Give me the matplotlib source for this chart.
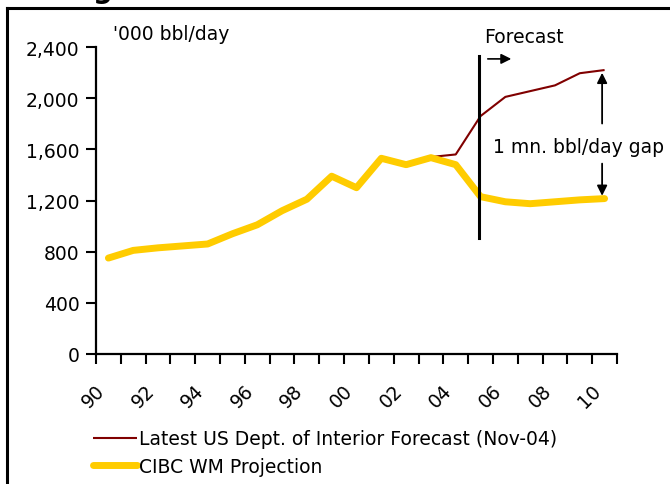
import numpy as np
import matplotlib
matplotlib.use("Agg")
import matplotlib.pyplot as plt
import matplotlib.transforms as mtransforms
from matplotlib.lines import Line2D

# annual output, '000 bbl/day
years = list(range(1990, 2011))
cibc = [750, 810, 830, 845, 860, 940, 1010, 1120, 1210, 1390, 1300, 1530, 1480, 1535, 1480,
        1230, 1190, 1175, 1190, 1205, 1215]
doi = [750, 810, 830, 845, 860, 940, 1010, 1120, 1210, 1390, 1300, 1530, 1480, 1540, 1560,
       1860, 2010, 2055, 2100, 2195, 2220]
tick_labels = ["90", "92", "94", "96", "98", "00", "02", "04", "06", "08", "10"]
label_years = years[::2]

RED = "#800000"
YELLOW = "#FFCC00"
FS = 13.5

plt.rcParams["font.family"] = ["DejaVu Sans"]
fig = plt.figure(figsize=(6.7, 4.85), dpi=100)
ax = fig.add_axes([96 / 670, 1 - 355 / 485, (617 - 96) / 670, (355 - 48) / 485])

ax.plot(years, doi, color=RED, lw=1.5, label="Latest US Dept. of Interior Forecast (Nov-04)",
        solid_capstyle="butt")
ax.plot(years, cibc, color=YELLOW, lw=5, label="CIBC WM Projection", solid_capstyle="round",
        solid_joinstyle="round")

ax.set_xlim(1989.5, 2010.5)
ax.set_ylim(0, 2400)
ax.set_yticks(np.arange(0, 2401, 400))
ax.set_yticklabels([f"{v:,}" for v in range(0, 2401, 400)], fontsize=FS)
ax.set_xticks(label_years)
ax.set_xticklabels(tick_labels, fontsize=FS, rotation=45, ha="right", va="top")
shift = mtransforms.ScaledTranslation(-4 / 100, 0, fig.dpi_scale_trans)
for lab in ax.get_xticklabels():
    lab.set_transform(lab.get_transform() + shift)
ax.set_xticks(np.arange(1989.5, 2011, 1), minor=True)
ax.tick_params(axis="x", which="major", length=0, pad=19)
ax.tick_params(axis="x", which="minor", length=7, width=1.5, direction="out")
ax.tick_params(axis="y", length=7, width=1.5, direction="out", pad=5)
for s in ("top", "right"):
    ax.spines[s].set_visible(False)
for s in ("left", "bottom"):
    ax.spines[s].set_linewidth(1.6)

# forecast divider and annotations
fx = 2004.92
ax.plot([fx, fx], [907, 2330], color="black", lw=2.2, clip_on=False)
ax.text(fx + 0.22, 2480, "Forecast", fontsize=FS, va="center", ha="left")
ax.annotate("", xy=(2006.35, 2307), xytext=(2005.18, 2307),
            arrowprops=dict(arrowstyle="-|>", color="black", lw=1.2, mutation_scale=15),
            annotation_clip=False)

gx = 2009.9
ax.annotate("", xy=(gx, doi[-1]), xytext=(gx, 1780),
            arrowprops=dict(arrowstyle="-|>", color="black", lw=1.3, mutation_scale=15))
ax.annotate("", xy=(gx, cibc[-1]), xytext=(gx, 1510),
            arrowprops=dict(arrowstyle="-|>", color="black", lw=1.3, mutation_scale=15))
ax.text(2008.93, 1620, "1 mn. bbl/day gap", fontsize=FS, ha="center", va="center",
        clip_on=False)

ax.text(1990.2, 2502, "'000 bbl/day", fontsize=FS, va="center", ha="left")

leg = fig.legend(loc="upper left", bbox_to_anchor=(85 / 670, 1 - 423 / 485), frameon=False,
                 fontsize=FS, handlelength=2.35, handletextpad=0.12, labelspacing=0.45,
                 borderaxespad=0)

# outer frame of the exhibit, with the clipped heading above it
fig.add_artist(Line2D([7 / 670, 7 / 670], [0, 1 - 9 / 485], color="black", lw=2.2,
                      transform=fig.transFigure))
fig.add_artist(Line2D([7 / 670, 1], [1 - 9 / 485, 1 - 9 / 485], color="black", lw=2.2,
                      transform=fig.transFigure))
fig.text(93 / 670, 1 + 2 / 485, "g", fontsize=20, fontweight="bold", va="baseline", ha="left")

fig.savefig("out.png", dpi=100)
